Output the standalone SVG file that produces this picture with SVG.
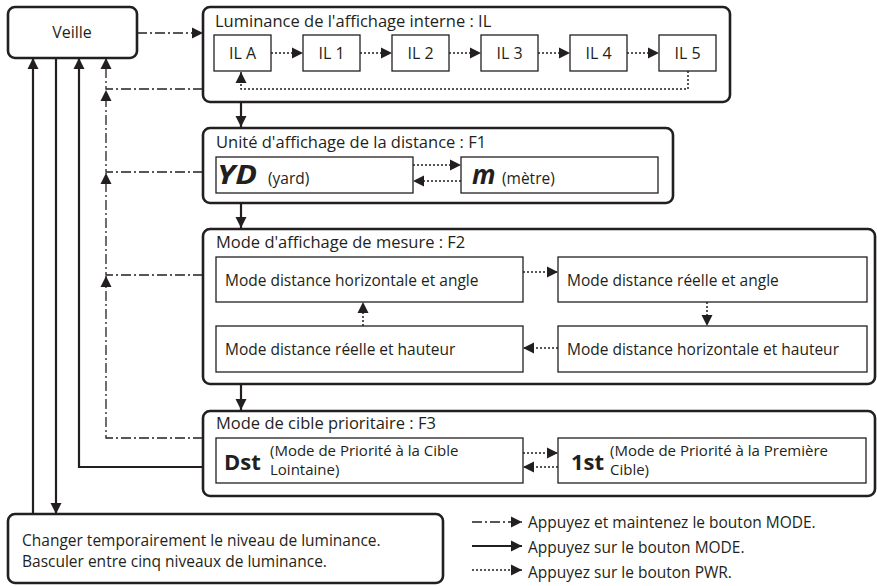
<svg xmlns="http://www.w3.org/2000/svg" width="877" height="586" viewBox="0 0 877 586">
<style>
text{font-family:"Open Sans","Noto Sans","Liberation Sans",sans-serif;fill:#231f20;font-size:15.5px}
.t{font-size:16.5px}
.outer{fill:#fff;stroke:#231f20;stroke-width:2.6}
.inner{fill:#fff;stroke:#231f20;stroke-width:1.3}
.solid{fill:none;stroke:#231f20;stroke-width:2.2}
.dd{fill:none;stroke:#231f20;stroke-width:1.3;stroke-dasharray:10 3 2 3}
.dot{fill:none;stroke:#231f20;stroke-width:1.5;stroke-dasharray:2 2}
.c{text-anchor:middle}
.big{font-weight:bold;font-size:22px}
.bi{font-weight:bold;font-style:italic;font-size:26px}
.sm{font-size:15px}
</style>
<defs>
<marker id="ah" viewBox="0 0 10 10" markerUnits="userSpaceOnUse" markerWidth="11" markerHeight="12" refX="10" refY="5" orient="auto">
<path d="M0,0 L10,5 L0,10 Z" fill="#231f20"/>
</marker>
</defs>

<g id="veille">
<rect class="outer" x="8" y="7" width="129" height="51" rx="7"/>
<text class="c" x="72" y="38" style="font-size:16px">Veille</text>
</g>

<g id="il">
<rect class="outer" x="203" y="7" width="527" height="95" rx="7"/>
<text class="t" x="215" y="27">Luminance de l'affichage interne : IL</text>
<rect class="inner" x="214" y="35" width="57" height="36"/>
<text class="c" x="242.5" y="59" style="font-size:16px">IL A</text>
<rect class="inner" x="303" y="35" width="57" height="36"/>
<text class="c" x="331.5" y="59" style="font-size:16px">IL 1</text>
<rect class="inner" x="392" y="35" width="57" height="36"/>
<text class="c" x="420.5" y="59" style="font-size:16px">IL 2</text>
<rect class="inner" x="481" y="35" width="57" height="36"/>
<text class="c" x="509.5" y="59" style="font-size:16px">IL 3</text>
<rect class="inner" x="570" y="35" width="57" height="36"/>
<text class="c" x="598.5" y="59" style="font-size:16px">IL 4</text>
<rect class="inner" x="659" y="35" width="57" height="36"/>
<text class="c" x="687.5" y="59" style="font-size:16px">IL 5</text>
</g>

<g id="f1">
<rect class="outer" x="203" y="128" width="470" height="75" rx="7"/>
<text class="t" x="216" y="148">Unité d'affichage de la distance : F1</text>
<rect class="inner" x="216" y="157" width="197" height="36"/>
<text class="bi" x="217" y="184" textLength="40" lengthAdjust="spacingAndGlyphs">YD</text>
<text x="268" y="184">(yard)</text>
<rect class="inner" x="461" y="157" width="197" height="36"/>
<text class="bi" x="472" y="184">m</text>
<text x="502" y="184">(mètre)</text>
</g>

<g id="f2">
<rect class="outer" x="203" y="229" width="672" height="155" rx="7"/>
<text class="t" x="216" y="248">Mode d'affichage de mesure : F2</text>
<rect class="inner" x="216" y="257" width="307" height="45"/>
<text x="225" y="286">Mode distance horizontale et angle</text>
<rect class="inner" x="558" y="257" width="309" height="45"/>
<text x="567" y="286">Mode distance réelle et angle</text>
<rect class="inner" x="216" y="326" width="307" height="46"/>
<text x="225" y="355">Mode distance réelle et hauteur</text>
<rect class="inner" x="558" y="326" width="309" height="46"/>
<text x="567" y="355">Mode distance horizontale et hauteur</text>
</g>

<g id="f3">
<rect class="outer" x="203" y="411" width="672" height="85" rx="7"/>
<text class="t" x="216" y="429">Mode de cible prioritaire : F3</text>
<rect class="inner" x="216" y="438" width="307" height="45"/>
<text class="big" x="224" y="470">Dst</text>
<text class="sm" x="270" y="456">(Mode de Priorité à la Cible</text>
<text class="sm" x="270" y="475">Lointaine)</text>
<rect class="inner" x="558" y="438" width="308" height="45"/>
<text class="big" x="571" y="470">1st</text>
<text class="sm" x="610" y="456">(Mode de Priorité à la Première</text>
<text class="sm" x="610" y="475">Cible)</text>
</g>

<g id="note">
<rect class="outer" x="8" y="514" width="435" height="69" rx="7"/>
<text x="22" y="546">Changer temporairement le niveau de luminance.</text>
<text x="22" y="567">Basculer entre cinq niveaux de luminance.</text>
</g>

<g id="connectors">
<line class="dd" x1="137" y1="33" x2="203" y2="33" marker-end="url(#ah)"/>
<line class="dot" x1="271" y1="53" x2="303" y2="53" marker-end="url(#ah)"/>
<line class="dot" x1="360" y1="53" x2="392" y2="53" marker-end="url(#ah)"/>
<line class="dot" x1="449" y1="53" x2="481" y2="53" marker-end="url(#ah)"/>
<line class="dot" x1="538" y1="53" x2="570" y2="53" marker-end="url(#ah)"/>
<line class="dot" x1="627" y1="53" x2="659" y2="53" marker-end="url(#ah)"/>
<polyline class="dot" points="688,71 688,89 241,89 241,72" marker-end="url(#ah)"/>
<line class="solid" x1="241" y1="102" x2="241" y2="127" marker-end="url(#ah)"/>
<line class="solid" x1="241" y1="203" x2="241" y2="228" marker-end="url(#ah)"/>
<line class="solid" x1="241" y1="384" x2="241" y2="410" marker-end="url(#ah)"/>
<line class="dot" x1="413" y1="165" x2="461" y2="165" marker-end="url(#ah)"/>
<line class="dot" x1="461" y1="181" x2="413" y2="181" marker-end="url(#ah)"/>
<line class="dot" x1="523" y1="272" x2="558" y2="272" marker-end="url(#ah)"/>
<line class="dot" x1="707" y1="302" x2="707" y2="326" marker-end="url(#ah)"/>
<line class="dot" x1="558" y1="348" x2="523" y2="348" marker-end="url(#ah)"/>
<line class="dot" x1="363" y1="326" x2="363" y2="302" marker-end="url(#ah)"/>
<line class="dot" x1="523" y1="453" x2="558" y2="453" marker-end="url(#ah)"/>
<line class="dot" x1="558" y1="467" x2="523" y2="467" marker-end="url(#ah)"/>
<polyline class="dd" points="203,89 106,89 106,58" marker-end="url(#ah)"/>
<polyline class="dd" points="203,172 106,172 106,90" marker-end="url(#ah)"/>
<polyline class="dd" points="203,275 106,275 106,173" marker-end="url(#ah)"/>
<polyline class="dd" points="203,438 106,438 106,276" marker-end="url(#ah)"/>
<polyline class="solid" points="203,467 79,467 79,58" marker-end="url(#ah)"/>
<line class="solid" x1="56" y1="58" x2="56" y2="514" marker-end="url(#ah)"/>
<line class="solid" x1="33" y1="514" x2="33" y2="58" marker-end="url(#ah)"/>
</g>

<g id="legend">
<line class="dd" x1="472" y1="522" x2="522" y2="522" marker-end="url(#ah)"/>
<text x="528" y="528">Appuyez et maintenez le bouton MODE.</text>
<line class="solid" x1="472" y1="546" x2="522" y2="546" marker-end="url(#ah)"/>
<text x="528" y="553">Appuyez sur le bouton MODE.</text>
<line class="dot" x1="472" y1="570" x2="522" y2="570" marker-end="url(#ah)"/>
<text x="528" y="578">Appuyez sur le bouton PWR.</text>
</g>
</svg>
